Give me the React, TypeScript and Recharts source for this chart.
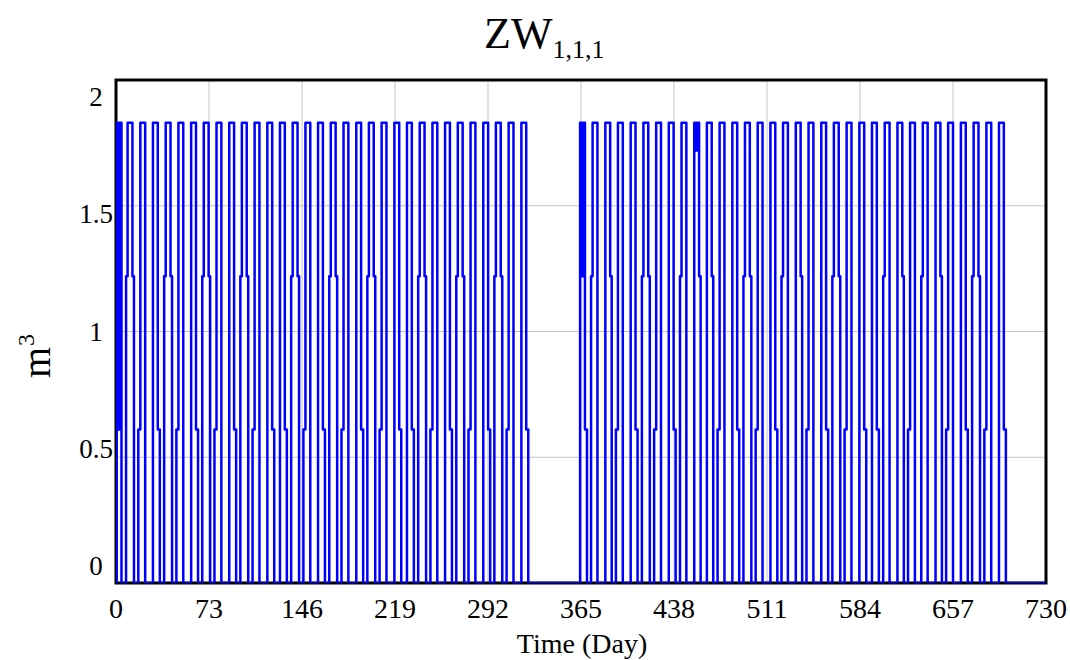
import React from 'react';
import { LineChart, Line, XAxis, YAxis, CartesianGrid, ReferenceArea } from 'recharts';

// ---- values ----
const xTicks = [0, 73, 146, 219, 292, 365, 438, 511, 584, 657, 730];
const yTicks = [0, 0.5, 1, 1.5, 2];

const PEAK = 1.83;       // flat top of every pulse
const LEVEL_HIGH = 1.22; // intermediate step seen on some edges
const LEVEL_LOW = 0.61;  // lower intermediate step

// centre day of each pulse top, first year
const year1PulseDays = [
  2.4, 11.0, 21.0, 30.9, 40.9, 50.9, 60.9, 70.8, 80.8, 90.8,
  100.7, 110.7, 120.7, 130.6, 140.6, 150.6, 160.5, 170.5, 180.5, 190.5,
  200.4, 210.4, 220.4, 230.3, 240.3, 250.3, 260.2, 270.2, 280.2, 290.2,
  300.1, 310.1, 320.1,
];
// edge shape of each pulse, first year
const year1PulseShapes = [
  'X1', 'A', 'B', 'C', 'A', 'B', 'C', 'A', 'B', 'C',
  'A', 'B', 'C', 'C', 'A', 'B', 'C', 'A', 'B', 'C',
  'A', 'B', 'C', 'C', 'A', 'B', 'C', 'A', 'B', 'C',
  'A', 'B', 'C',
];

// centre day of each pulse top, second year
const year2PulseDays = [
  366.2, 376.0, 386.0, 395.9, 405.9, 415.9, 425.9, 435.8, 445.8, 455.8,
  465.7, 475.7, 485.7, 495.6, 505.6, 515.6, 525.5, 535.5, 545.5, 555.5,
  565.4, 575.4, 585.4, 595.3, 605.3, 615.3, 625.2, 635.2, 645.2, 655.1,
  665.1, 675.1, 685.1, 695.0,
];
const year2PulseShapes = [
  'X2', 'D', 'E', 'B', 'C', 'A', 'B', 'C', 'D', 'X3',
  'E', 'B', 'C', 'A', 'B', 'C', 'D', 'E', 'B', 'C',
  'A', 'B', 'C', 'C', 'D', 'E', 'B', 'D', 'E', 'B',
  'C', 'A', 'B', 'C',
];

const DAY_START = 0;
const DAY_END = 730;

// ---- shape table (levels / durations in days) ----
type EdgeStep = { level: number; dur: number } | null;
type Shape = { rise: EdgeStep; fall: EdgeStep; burstLow: number | null };
const HI_STEP = { level: LEVEL_HIGH, dur: 1.2 };
const LO_STEP = { level: LEVEL_LOW, dur: 1.6 };
const SHAPES: Record<string, Shape> = {
  A: { rise: HI_STEP, fall: HI_STEP, burstLow: null },
  B: { rise: LO_STEP, fall: null, burstLow: null },
  C: { rise: null, fall: LO_STEP, burstLow: null },
  D: { rise: HI_STEP, fall: null, burstLow: null },
  E: { rise: null, fall: HI_STEP, burstLow: null },
  X1: { rise: null, fall: null, burstLow: LEVEL_LOW },
  X2: { rise: null, fall: LO_STEP, burstLow: LEVEL_HIGH },
  X3: { rise: null, fall: HI_STEP, burstLow: 1.72 },
};
const HALF_TOP = 1.9;
const BURST_STEP = 0.8;

type Pt = { day: number; v: number };

function addPulse(out: Pt[], centre: number, code: string) {
  const s = SHAPES[code];
  const ts = centre - HALF_TOP;
  const te = centre + HALF_TOP;
  if (s.rise) {
    out.push({ day: ts - s.rise.dur, v: 0 });
    out.push({ day: ts - s.rise.dur, v: s.rise.level });
    out.push({ day: ts, v: s.rise.level });
  } else {
    out.push({ day: ts, v: 0 });
  }
  out.push({ day: ts, v: PEAK });
  if (s.burstLow !== null) {
    let t = ts + BURST_STEP;
    let up = true;
    while (t < te - 0.3) {
      out.push({ day: t, v: up ? PEAK : s.burstLow });
      out.push({ day: t, v: up ? s.burstLow : PEAK });
      up = !up;
      t += BURST_STEP;
    }
    out.push({ day: te, v: up ? PEAK : s.burstLow });
    if (!up) out.push({ day: te, v: PEAK });
  } else {
    out.push({ day: te, v: PEAK });
  }
  if (s.fall) {
    out.push({ day: te, v: s.fall.level });
    out.push({ day: te + s.fall.dur, v: s.fall.level });
    out.push({ day: te + s.fall.dur, v: 0 });
  } else {
    out.push({ day: te, v: 0 });
  }
}

function buildData(): Pt[] {
  const out: Pt[] = [{ day: DAY_START, v: 0 }];
  year1PulseDays.forEach((d, i) => addPulse(out, d, year1PulseShapes[i]));
  year2PulseDays.forEach((d, i) => addPulse(out, d, year2PulseShapes[i]));
  out.push({ day: DAY_END, v: 0 });
  return out;
}

const data = buildData();

const FONT = '"Liberation Serif", "Times New Roman", serif';

const XTick = (props: any) => {
  const { x, payload } = props;
  return (
    <text x={x} y={618} textAnchor="middle" fontFamily={FONT} fontSize={28} fill="#000">
      {payload.value}
    </text>
  );
};

const YTick = (props: any) => {
  const { y, payload } = props;
  const shift = (payload.value - 1) * 17;
  return (
    <text x={96} y={y + shift} textAnchor="middle" dominantBaseline="central" fontFamily={FONT} fontSize={27} fill="#000">
      {payload.value}
    </text>
  );
};

export default function App() {
  return (
    <div style={{ position: 'absolute', left: 0, top: 0, width: 1070, height: 660, background: '#fff' }}>
      <LineChart
        width={1070}
        height={660}
        data={data}
        margin={{ top: 80, right: 24, bottom: 17, left: 56 }}
      >
        <CartesianGrid stroke="#c4c4c4" strokeWidth={1} />
        <XAxis
          type="number"
          dataKey="day"
          domain={[DAY_START, DAY_END]}
          ticks={xTicks}
          interval={0}
          height={60}
          axisLine={false}
          tickLine={false}
          tick={<XTick />}
          allowDataOverflow
        />
        <YAxis
          type="number"
          domain={[0, 2]}
          ticks={yTicks}
          interval={0}
          width={60}
          axisLine={false}
          tickLine={false}
          tick={<YTick />}
          allowDataOverflow
        />
        <ReferenceArea x1={DAY_START} x2={DAY_END} y1={0} y2={2} fill="none" fillOpacity={0} stroke="#000" strokeWidth={3} ifOverflow="visible" />
        <Line
          type="linear"
          dataKey="v"
          stroke="#0000ff"
          strokeWidth={2.5}
          strokeLinejoin="round"
          dot={false}
          activeDot={false}
          isAnimationActive={false}
        />
      </LineChart>
      <svg width={1070} height={660} style={{ position: 'absolute', left: 0, top: 0, pointerEvents: 'none' }}>
        <text x={484} y={48} fontFamily={FONT} fontSize={44} fill="#000">
          ZW<tspan fontSize={26} dy={10}>1,1,1</tspan>
        </text>
        <text x={582} y={653} textAnchor="middle" fontFamily={FONT} fontSize={28} fill="#000">
          Time (Day)
        </text>
        <text x={50} y={378} transform="rotate(-90 50 378)" fontFamily={FONT} fontSize={40} fill="#000">
          m<tspan fontSize={24} dy={-16} dx={1}>3</tspan>
        </text>
      </svg>
    </div>
  );
}
